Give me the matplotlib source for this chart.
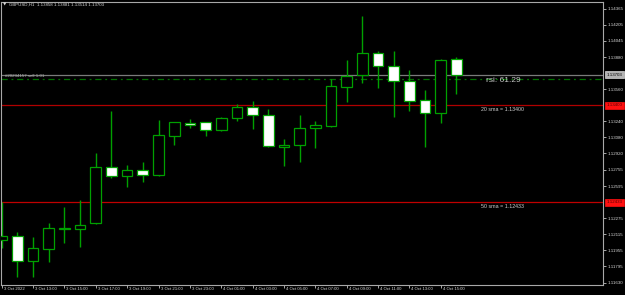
import matplotlib
matplotlib.use("Agg")
import matplotlib.pyplot as plt
import matplotlib.transforms as mtransforms

# ---------------- data ----------------
symbol = "GBPUSD,H1"
time_labels = ["3 Oct 2022", "3 Oct 13:00", "3 Oct 15:00", "3 Oct 17:00", "3 Oct 19:00",
               "3 Oct 21:00", "3 Oct 23:00", "4 Oct 01:00", "4 Oct 03:00", "4 Oct 05:00",
               "4 Oct 07:00", "4 Oct 09:00", "4 Oct 11:00", "4 Oct 13:00", "4 Oct 15:00"]
open_ = [1.12057, 1.12097, 1.11851, 1.11970, 1.12162, 1.12164, 1.12224, 1.12788, 1.12695, 1.12752,
         1.12702, 1.13097, 1.13224, 1.13231, 1.13157, 1.13270, 1.13383, 1.13300, 1.12989, 1.13007,
         1.13171, 1.13197, 1.13579, 1.13699, 1.13921, 1.13789, 1.13642, 1.13453, 1.13326, 1.13858]
high = [1.12436, 1.12140, 1.12090, 1.12224, 1.12389, 1.12456, 1.12921, 1.13346, 1.12805, 1.12838,
        1.13253, 1.13231, 1.13260, 1.13231, 1.13286, 1.13413, 1.13440, 1.13363, 1.13064, 1.13300,
        1.13243, 1.13659, 1.13852, 1.14293, 1.13941, 1.13941, 1.13752, 1.13553, 1.13862, 1.13881]
low = [1.11977, 1.11691, 1.11691, 1.11841, 1.12024, 1.11990, 1.12217, 1.12672, 1.12588, 1.12638,
       1.12700, 1.13004, 1.13171, 1.13094, 1.13147, 1.13246, 1.13164, 1.12987, 1.12798, 1.12838,
       1.12977, 1.13179, 1.13430, 1.13622, 1.13575, 1.13280, 1.13346, 1.12987, 1.13227, 1.13514]
close = [1.12097, 1.11851, 1.11974, 1.12174, 1.12172, 1.12207, 1.12788, 1.12695, 1.12752, 1.12702,
         1.13101, 1.13231, 1.13204, 1.13157, 1.13270, 1.13380, 1.13306, 1.12997, 1.13001, 1.13174,
         1.13204, 1.13589, 1.13692, 1.13918, 1.13789, 1.13642, 1.13443, 1.13320, 1.13855, 1.13703]
sma20 = 1.13400
sma50 = 1.12433
rsi = 61.29
order_price = 1.13659
order_label = "#20234157 sell 1.01"
price_ticks = [1.14365, 1.14205, 1.14045, 1.13880, 1.13560, 1.13240, 1.13080, 1.12920,
               1.12755, 1.12595, 1.12275, 1.12115, 1.11955, 1.11795, 1.11630]

# ---------------- style ----------------
GREEN = "#00a000"
FONT = ["Liberation Sans", "DejaVu Sans"]
plt.rcParams["font.family"] = FONT

W, H = 625, 295
fig = plt.figure(figsize=(W / 100, H / 100), dpi=100, facecolor="black")
ax = fig.add_axes([1 / W, 1 - 285 / H, (602.7 - 1) / W, (285 - 1.7) / H])
ax.set_facecolor("black")

n = len(open_)
idx = list(range(n))
ax.set_xlim(-0.045, 38.33)
ax.set_ylim(1.116084, 1.144329)

# wicks
ax.vlines(idx, low, high, color=GREEN, lw=1.0, zorder=2)
# bodies
bottoms = [min(o, c) for o, c in zip(open_, close)]
heights = [max(abs(c - o), 0.000008) for o, c in zip(open_, close)]
colors = ["white" if c < o else "black" for o, c in zip(open_, close)]
ax.bar(idx, heights, bottom=bottoms, width=0.68, color=colors, edgecolor=GREEN,
       linewidth=0.9, zorder=3)

# horizontal lines
ax.axhline(sma20, color="#b00000", lw=0.9, zorder=1)
ax.axhline(sma50, color="#c00000", lw=0.9, zorder=1)
ax.axhline(close[-1], color="#7a7a7a", lw=0.9, zorder=1)
ax.axhline(order_price, color="#007000", lw=0.9, ls=(0, (5, 3, 1.5, 3)), zorder=1)

# spines
for s in ax.spines.values():
    s.set_color("#a8a8a8")
    s.set_linewidth(0.8)

# axes ticks
ax.yaxis.tick_right()
ax.set_yticks(price_ticks)
ax.set_yticklabels([f"{p:.5f}" for p in price_ticks])
ax.tick_params(axis="y", colors="#a8a8a8", labelcolor="#d8d8d8", length=2.2, width=0.7,
               pad=1.2, labelsize=3.2)
ax.set_xticks(idx[0::2])
ax.set_xticklabels(time_labels)
ax.tick_params(axis="x", colors="#a8a8a8", labelcolor="#d8d8d8", length=2.5, width=0.7,
               pad=-1.2, labelsize=3.1)
off = mtransforms.ScaledTranslation(2 / 100, 0, fig.dpi_scale_trans)
for lab in ax.get_xticklabels():
    lab.set_ha("left")
    lab.set_transform(lab.get_transform() + off)

# price boxes on the right axis
bt = mtransforms.blended_transform_factory(ax.transAxes, ax.transData)
boxx = 1 + 3.5 / (602.7 - 1)
ax.text(boxx, close[-1], f"{close[-1]:.5f}", transform=bt, ha="left", va="center",
        fontsize=3.2, color="black", clip_on=False, zorder=6,
        bbox=dict(boxstyle="square,pad=0.35", fc="#b4b4b4", ec="#d8d8d8", lw=0.5))
for v in (sma20, sma50):
    ax.text(boxx, v, f"{v:.5f}", transform=bt, ha="left", va="center",
            fontsize=3.2, color="#500000", clip_on=False, zorder=6,
            bbox=dict(boxstyle="square,pad=0.35", fc="#ff1010", ec="#ff1010", lw=0.5))

# in-chart labels
ax.annotate(f"20 sma = {sma20:.5f}", xy=(30.6, sma20), xytext=(0, -2.7),
            textcoords="offset points", ha="left", va="center", fontsize=3.8, color="#d0d0d0")
ax.annotate(f"50 sma = {sma50:.5f}", xy=(30.6, sma50), xytext=(0, -2.7),
            textcoords="offset points", ha="left", va="center", fontsize=3.8, color="#d0d0d0")
ax.text(0.806, 0.7236, f"rsi: {rsi:.2f}", transform=ax.transAxes, ha="left", va="center",
        fontsize=6, color="#c8c8c8", zorder=5)
ax.annotate(order_label, xy=(0.2, order_price), xytext=(0, 2.3), textcoords="offset points",
            ha="left", va="center", fontsize=3.2, color="#b0b0b0")

# header
fig.text(3 / W, 1 - 5 / H, "\u25bc", fontsize=3.2, color="#d8d8d8", va="center", ha="left",
         family="DejaVu Sans")
fig.text(9 / W, 1 - 5 / H,
         f"{symbol}  {open_[-1]:.5f} {high[-1]:.5f} {low[-1]:.5f} {close[-1]:.5f}",
         fontsize=3.2, color="#d8d8d8", va="center", ha="left")

fig.savefig("out.png", dpi=100, facecolor="black")
